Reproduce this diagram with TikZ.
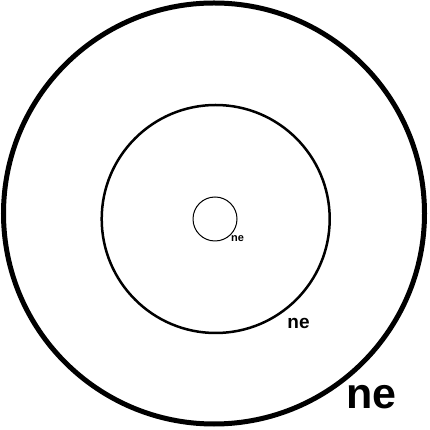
\documentclass[tikz,border=0pt]{standalone}
\usepackage{fontspec}
\setmainfont{Liberation Sans}

\tikzstyle{ring} = [circle, draw=black, inner sep=0pt, outer sep=0pt]
\tikzstyle{lbl} = [inner sep=0pt, font=\bfseries]

\begin{document}
\begin{tikzpicture}[x=1pt,y=1pt]
    \useasboundingbox (0,0) rectangle (430,430);
    \node (outer)[ring, line width=5pt, minimum size=421pt] at (214,216.5) {};
    \node (middle)[ring, line width=2.5pt, minimum size=228pt] at (215.7,211) {};
    \node (inner)[ring, line width=1pt, minimum size=44pt] at (215,211) {};

    \node (neInner)[lbl, font=\bfseries\fontsize{11}{13}\selectfont] at (237.5,191.5) {ne};
    \node (neMiddle)[lbl, font=\bfseries\fontsize{19}{22}\selectfont] at (298.5,106.5) {ne};
    \node (neOuter)[lbl, font=\bfseries\fontsize{43}{50}\selectfont] at (371.5,32.5) {ne};
\end{tikzpicture}
\end{document}
